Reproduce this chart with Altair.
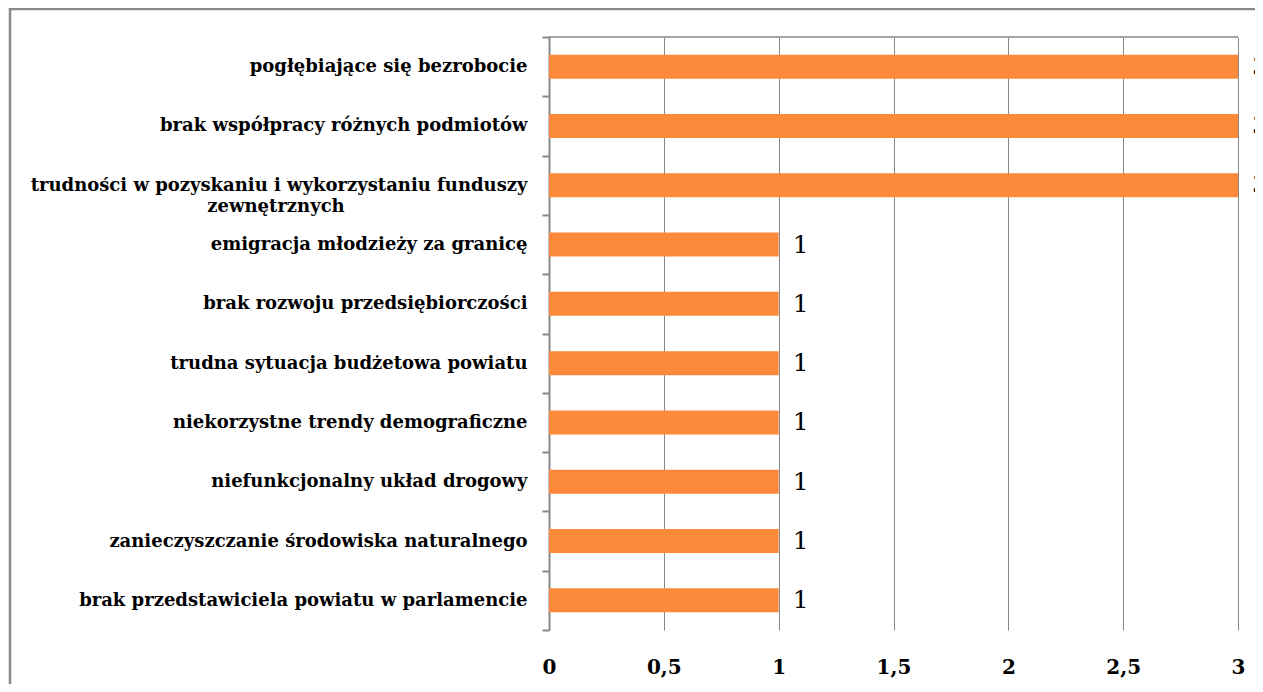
import altair as alt
import pandas as pd

BLANK = "\u2800"

categories = [
    "pogłębiające się bezrobocie",
    "brak współpracy różnych podmiotów",
    "trudności w pozyskaniu i wykorzystaniu funduszy zewnętrznych",
    "emigracja młodzieży za granicę",
    "brak rozwoju przedsiębiorczości",
    "trudna sytuacja budżetowa powiatu",
    "niekorzystne trendy demograficzne",
    "niefunkcjonalny układ drogowy",
    "zanieczyszczanie środowiska naturalnego",
    "brak przedstawiciela powiatu w parlamencie",
]
values = [3, 3, 3, 1, 1, 1, 1, 1, 1, 1]
x_ticks = [0, 0.5, 1, 1.5, 2, 2.5, 3]

df = pd.DataFrame({"kategoria": categories, "wartosc": values})

W, H = 689, 593
SERIF = "DejaVu Serif"
GRAY = "#898989"
ORANGE = "#FD8A3B"

pad_line2 = BLANK * 13
label_expr = (
    "indexof(datum.label, 'funduszy ') >= 0 ? "
    "[replace(datum.label, ' zewnętrznych', ''), 'zewnętrznych" + pad_line2 + "'] : datum.label"
)

y_enc = alt.Y(
    "kategoria:N",
    sort=categories,
    scale=alt.Scale(paddingInner=0, paddingOuter=0),
    axis=alt.Axis(
        title=None,
        tickBand="extent",
        domainColor=GRAY,
        domainWidth=2,
        tickColor=GRAY,
        tickWidth=2,
        tickSize=7,
        labelPadding=15,
        labelFont=SERIF,
        labelFontSize=18,
        labelFontWeight="bold",
        labelColor="#000000",
        labelLimit=600,
        labelLineHeight=21,
        labelExpr=label_expr,
        grid=False,
    ),
)

x_enc = alt.X(
    "wartosc:Q",
    scale=alt.Scale(domain=[0, 3], nice=False),
    axis=alt.Axis(
        title=None,
        values=x_ticks,
        domain=False,
        ticks=False,
        grid=True,
        gridColor=GRAY,
        gridWidth=1,
        labelFlush=False,
        labelFont=SERIF,
        labelFontSize=20,
        labelFontWeight="bold",
        labelColor="#000000",
        labelPadding=27,
        labelExpr="replace(format(datum.value, ''), '.', ',')",
    ),
)

bars = alt.Chart(df).mark_bar(size=24, color=ORANGE).encode(x=x_enc, y=y_enc)

texts = alt.Chart(df).mark_text(
    align="left", baseline="middle", dx=14, font=SERIF, fontSize=25, color="#000000"
).encode(x="wartosc:Q", y=alt.Y("kategoria:N", sort=categories), text="wartosc:Q")

top_line = alt.Chart(alt.Data(values=[{}])).mark_rule(color=GRAY, strokeWidth=1.5).encode(
    x=alt.value(0), x2=alt.value(W), y=alt.value(0)
)

border = alt.Chart(alt.Data(values=[{}])).mark_rect(
    fill=None, stroke=GRAY, strokeWidth=2.5
).encode(
    x=alt.value(-539), x2=alt.value(W + 80), y=alt.value(-28), y2=alt.value(H + 100)
)

chart = (
    alt.layer(border, bars, top_line, texts)
    .properties(
        width=W,
        height=H,
        autosize=alt.AutoSizeParams(type="none"),
        padding={"left": 541, "top": 29, "right": 17, "bottom": 54},
    )
    .configure_view(stroke=None)
)

chart.save("out.html", embed_options={"renderer": "svg", "actions": False})
